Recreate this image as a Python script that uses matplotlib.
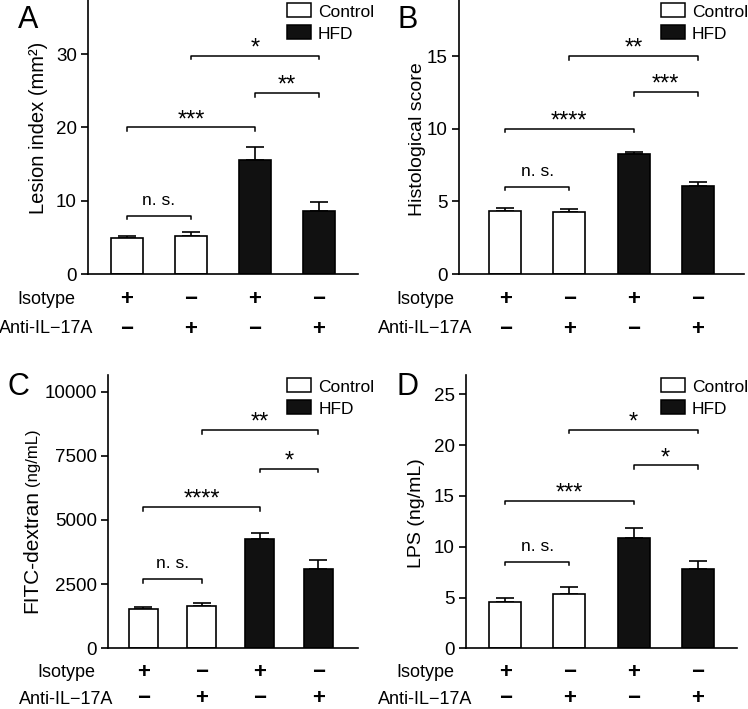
import matplotlib
matplotlib.use("Agg")
import matplotlib.pyplot as plt
from matplotlib.patches import Rectangle

plt.rcParams['font.family'] = ['Liberation Sans', 'DejaVu Sans']

# ---- data ----
isotype = ['+', '\u2212', '+', '\u2212']
anti_il17a = ['\u2212', '+', '\u2212', '+']
row_labels = ['Isotype', 'Anti-IL\u221217A']
diet = ['Control', 'Control', 'HFD', 'HFD']

lesion_mean = [4.9, 5.2, 15.5, 8.6]
lesion_sem = [0.3, 0.5, 1.8, 1.2]
histo_mean = [4.36, 4.27, 8.24, 6.08]
histo_sem = [0.16, 0.2, 0.18, 0.27]
fitc_mean = [1520, 1660, 4270, 3100]
fitc_sem = [80, 100, 220, 325]
lps_mean = [4.56, 5.35, 10.89, 7.84]
lps_sem = [0.43, 0.72, 0.99, 0.72]

# significance brackets: (bar i, bar j, height, label)
lesion_sig = [(0, 1, 7.95, 'n. s.'), (0, 2, 20, '***'), (2, 3, 24.7, '**'), (1, 3, 29.8, '*')]
histo_sig = [(0, 1, 6, 'n. s.'), (0, 2, 10, '****'), (2, 3, 12.5, '***'), (1, 3, 15, '**')]
fitc_sig = [(0, 1, 2700, 'n. s.'), (0, 2, 5500, '****'), (2, 3, 7000, '*'), (1, 3, 8500, '**')]
lps_sig = [(0, 1, 8.5, 'n. s.'), (0, 2, 14.5, '***'), (2, 3, 18, '*'), (1, 3, 21.5, '*')]

W, H = 748, 709
fig = plt.figure(figsize=(W / 100, H / 100), dpi=100)
BLACK = '#111111'


def fx(x):
    return x / W


def fy(y):
    return 1 - y / H


def draw_panel(box, xlim, ylim, yticks, mean, sem, sig, letter, letter_xy,
               rows_x, rows_mid, legend_xy):
    left, top, right, bottom = box
    ax = fig.add_axes([fx(left), fy(bottom), (right - left) / W, (bottom - top) / H])
    x = list(range(len(mean)))
    colors = ['white' if d == 'Control' else BLACK for d in diet]
    ax.bar(x, mean, width=0.5, color=colors, edgecolor='black', linewidth=1.2, zorder=2)
    ax.errorbar(x, mean, yerr=[[0] * len(sem), sem], fmt='none', ecolor='black',
                elinewidth=1.2, capsize=6.5, capthick=1.2, zorder=1)
    ax.set_xlim(*xlim)
    ax.set_ylim(*ylim)
    ax.set_yticks(yticks)
    ax.set_xticks([])
    for s in ['top', 'right']:
        ax.spines[s].set_visible(False)
    for s in ['left', 'bottom']:
        ax.spines[s].set_linewidth(1.2)
    ax.tick_params(axis='y', direction='out', length=5, width=1.2, labelsize=13.5, pad=3)

    # brackets
    px = (ylim[1] - ylim[0]) / (bottom - top)
    drop = 3.5 * px
    for i, j, y, lab in sig:
        ax.plot([i, i, j, j], [y - drop, y, y, y - drop], color='black', lw=1.1,
                clip_on=False)
        if lab.startswith('n'):
            ax.annotate(lab, xy=((i + j) / 2, y), xytext=(0, 8), textcoords='offset points',
                        ha='center', va='baseline', fontsize=12.5)
        else:
            ax.annotate(lab, xy=((i + j) / 2, y), xytext=(0, 1), textcoords='offset points',
                        ha='center', va='baseline', fontsize=17)

    # treatment rows
    for r, (lab, signs) in enumerate(zip(row_labels, [isotype, anti_il17a])):
        mid = bottom + rows_mid[r]
        fig.text(fx(rows_x), fy(mid), lab, ha='center', va='center', fontsize=13)
        for k, s in enumerate(signs):
            ax.annotate(s, xy=(k, 0), xycoords=('data', 'axes fraction'),
                        xytext=(0, -rows_mid[r] * 0.72), textcoords='offset points',
                        ha='center', va='center', fontsize=16, fontweight='bold')

    # panel letter
    fig.text(fx(letter_xy[0]), fy(letter_xy[1]), letter, ha='center', va='baseline',
             fontsize=22)

    # legend
    lx, ly = legend_xy
    for n, (lab, fc) in enumerate([('Control', 'white'), ('HFD', BLACK)]):
        b = ly + n * 22
        fig.add_artist(Rectangle((fx(lx), fy(b)), 24 / W, 13.5 / H, transform=fig.transFigure,
                                 facecolor=fc, edgecolor='black', linewidth=1.1))
        fig.text(fx(lx + 31), fy(b), lab, ha='left', va='baseline', fontsize=12.5)
    return ax


def ylabel(x, y, s, size=14):
    fig.text(fx(x), fy(y), s, rotation=90, rotation_mode='anchor', ha='center',
             va='baseline', fontsize=size)


draw_panel((88, 0, 358, 274), (-0.61, 3.61), (0, 37.4), [0, 10, 20, 30],
           lesion_mean, lesion_sem, lesion_sig, 'A', (28.3, 28.3), 46.5, (25.7, 55), (286.7, 16.7))
ylabel(44.3, 127.5, 'Lesion index (mm\u00b2)', 14.5)

draw_panel((459, 0, 744, 274), (-0.72, 3.72), (0, 18.86), [0, 5, 10, 15],
           histo_mean, histo_sem, histo_sig, 'B', (408, 28.3), 425, (25.7, 55), (660.7, 16.7))
ylabel(422.3, 139, 'Histological score')

draw_panel((108.3, 375, 358.3, 648.3), (-0.6, 3.69), (0, 10650), [0, 2500, 5000, 7500, 10000],
           fitc_mean, fitc_sem, fitc_sig, 'C', (18.3, 395), 66, (24.2, 50.7), (287.3, 391.7))
ylabel(37, 551.7, 'FITC-dextran', 15)
ylabel(37, 457.5, '(ng/mL)', 12)

draw_panel((465.7, 375, 737.3, 648.3), (-0.62, 3.62), (0, 26.9), [0, 5, 10, 15, 20, 25],
           lps_mean, lps_sem, lps_sig, 'D', (408, 395), 425, (24.2, 50.7), (660.7, 391.7))
ylabel(420.7, 513, 'LPS (ng/mL)')

fig.savefig('out.png', dpi=100)
